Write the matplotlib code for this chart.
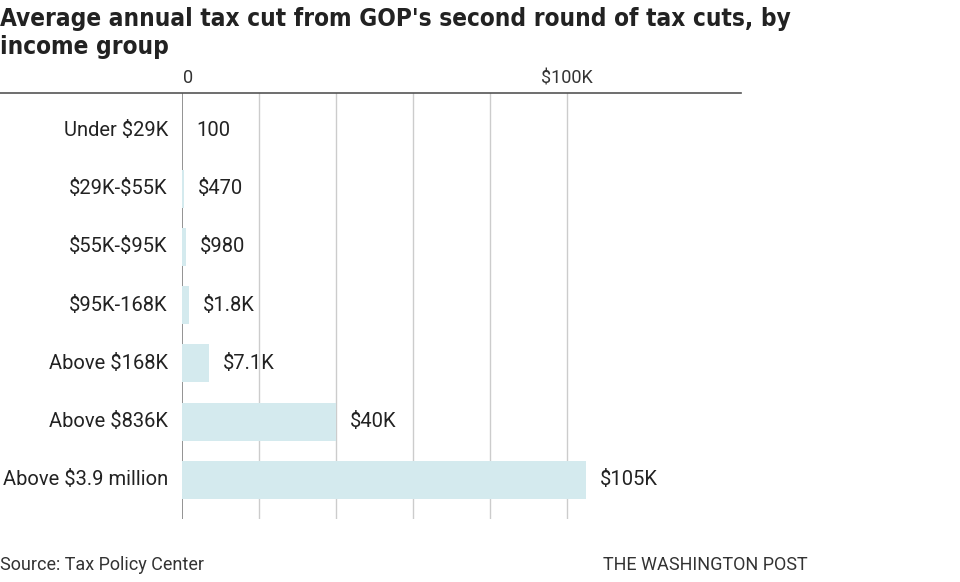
import matplotlib
matplotlib.use("Agg")
import matplotlib.pyplot as plt
from matplotlib.lines import Line2D
from matplotlib.transforms import ScaledTranslation

plt.rcParams["text.parse_math"] = False

categories = ["Under $29K", "$29K-$55K", "$55K-$95K", "$95K-168K",
              "Above $168K", "Above $836K", "Above $3.9 million"]
values = [100, 470, 980, 1800, 7100, 40000, 105000]
value_labels = ["100", "$470", "$980", "$1.8K", "$7.1K", "$40K", "$105K"]
grid_ticks = [0, 20000, 40000, 60000, 80000, 100000]
tick_values = [0, 100000]
tick_labels = ["0", "$100K"]

title = "Average annual tax cut from GOP's second round of tax cuts, by\nincome group"
source = "Source: Tax Policy Center"
credit = "THE WASHINGTON POST"

W, H = 960, 582
fig = plt.figure(figsize=(9.6, 5.82), dpi=100)
body_font = ["Roboto", "DejaVu Sans"]

left, right, top, bottom = 182, 741, 93, 519
ax = fig.add_axes([left / W, 1 - bottom / H, (right - left) / W, (bottom - top) / H])
xmax = (right - left) / 385 * 100000
ax.set_xlim(0, xmax)
ax.set_ylim(6.67, -0.64)
for s in ax.spines.values():
    s.set_visible(False)
ax.set_yticks([])

for t in grid_ticks:
    ax.axvline(t, color="#8a8a8a" if t == 0 else "#cccccc", lw=1.3 if t == 0 else 1.0, zorder=0)

ypos = list(range(len(categories)))
ax.barh(ypos, values, height=0.65, color="#d4eaee", zorder=2)

for y, v, lab in zip(ypos, values, value_labels):
    ax.annotate(lab, xy=(v, y), xytext=(14, 0), textcoords="offset pixels",
                va="center", ha="left", fontsize=14.5, color="#222222", family=body_font)

for y, c in zip(ypos, categories):
    ax.annotate(c, xy=(0, y), xytext=(-14, 0), textcoords="offset pixels",
                va="center", ha="right", fontsize=14.5, color="#222222", family=body_font,
                annotation_clip=False)

# top tick labels
ax.xaxis.set_ticks_position("top")
ax.set_xticks(tick_values)
ax.set_xticklabels(tick_labels, fontsize=13, color="#333333", family=body_font)
ax.tick_params(axis="x", length=0, pad=4)
lbl0 = ax.get_xticklabels()[0]
lbl0.set_transform(lbl0.get_transform() + ScaledTranslation(6 / 100, 0, fig.dpi_scale_trans))

fig.add_artist(Line2D([0, right / W], [1 - top / H, 1 - top / H], color="#555555", lw=1.2))

fig.text(0.0, 1 - 7 / H, title, ha="left", va="top", fontsize=17.5, fontweight="bold",
         family="DejaVu Sans", stretch="condensed", color="#222222", linespacing=1.2)

fig.text(0.0, 1 - 565 / H, source, ha="left", va="center", fontsize=13, color="#333333", family=body_font)
fig.text(603 / W, 1 - 565 / H, credit, ha="left", va="center", fontsize=13, color="#333333", family=body_font)

fig.savefig("out.png", dpi=100)
